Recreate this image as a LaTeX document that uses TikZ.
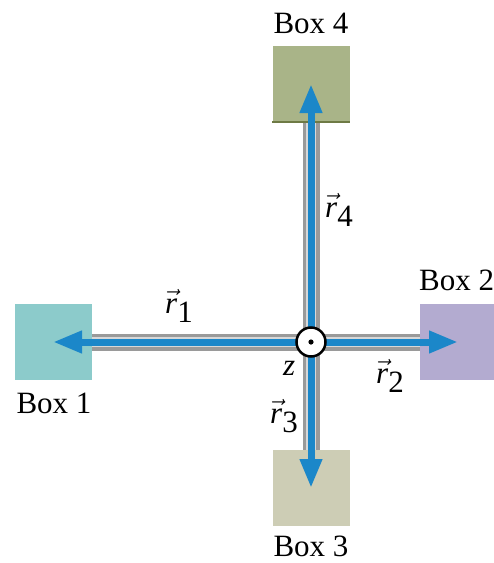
\RequirePackage{fix-cm}
\documentclass[tikz,border=0pt]{standalone}
\usepackage{fontspec}
\setmainfont{Liberation Serif}
\usetikzlibrary{arrows.meta,backgrounds}
\definecolor{vecblue}{HTML}{1B87C9}
\definecolor{shaftgrey}{HTML}{9A9A9A}
\definecolor{shaftlight}{HTML}{D8D8D8}
\definecolor{boxone}{HTML}{8CCBCB}
\definecolor{boxtwo}{HTML}{B3ABD0}
\definecolor{boxthree}{HTML}{CDCDB5}
\definecolor{boxfour}{HTML}{A9B488}
\definecolor{boxfouredge}{HTML}{6E7A45}
\tikzset{
  bx font/.style={font=\fontsize{31}{36}\selectfont},
  bx box/.style={minimum width=77pt, minimum height=76pt, inner sep=0pt},
  bx name/.style={bx font, inner sep=0pt, anchor=base},
  bx vec/.style={bx font, inner sep=0pt, anchor=base west},
  bx shaft/.style={draw=shaftgrey, double=shaftlight, double distance=10pt, line width=3.5pt},
  bx arr/.style={vecblue, line width=7pt, -{Triangle[length=29pt, width=21pt]}},
  bx pin/.style={circle, draw=black, line width=2.5pt, fill=white, minimum size=29pt, inner sep=0pt},
}
\newcommand{\posvec}[1]{$\vec{\textit{r}}_{\textrm{#1}}$}
\begin{document}
\begin{tikzpicture}[x=1pt, y=-1pt]
  \useasboundingbox (0,0) rectangle (494,563);
  \coordinate (o) at (311,342);
  % the four boxes
  \node[bx box, fill=boxone] (box1) at (53,342) {};
  \node[bx box, fill=boxtwo] (box2) at (458,342) {};
  \node[bx box, fill=boxthree] (box3) at (311,488) {};
  \node[bx box, fill=boxfour] (box4) at (311,84) {};
  \draw[boxfouredge, line width=1.5pt] (box4.south west) -- (box4.south east);
  \node[bx name] (n1) at (54,413) {Box 1};
  \node[bx name, anchor=base west] (n2) at (419,290) {Box 2};
  \node[bx name] (n3) at (311,556) {Box 3};
  \node[bx name] (n4) at (311,33) {Box 4};
  % grey rods behind the boxes
  \begin{scope}[on background layer]
    \foreach \b in {box1,box2,box3,box4} \draw[bx shaft] (o) -- (\b.center);
  \end{scope}
  \foreach \b in {box1,box2,box3,box4} \draw[bx arr] (o) -- (\b.center);
  \node[bx pin] (pin) at (o) {};
  \fill (pin.center) circle (2.6pt);
  \node[bx vec] (r1) at (165,313) {\posvec{1}};
  \node[bx vec] (r2) at (376,383) {\posvec{2}};
  \node[bx vec] (r3) at (270,423) {\posvec{3}};
  \node[bx vec] (r4) at (325,217) {\posvec{4}};
  \node[bx vec] (zl) at (283,375) {\textit{z}};
\end{tikzpicture}
\end{document}
